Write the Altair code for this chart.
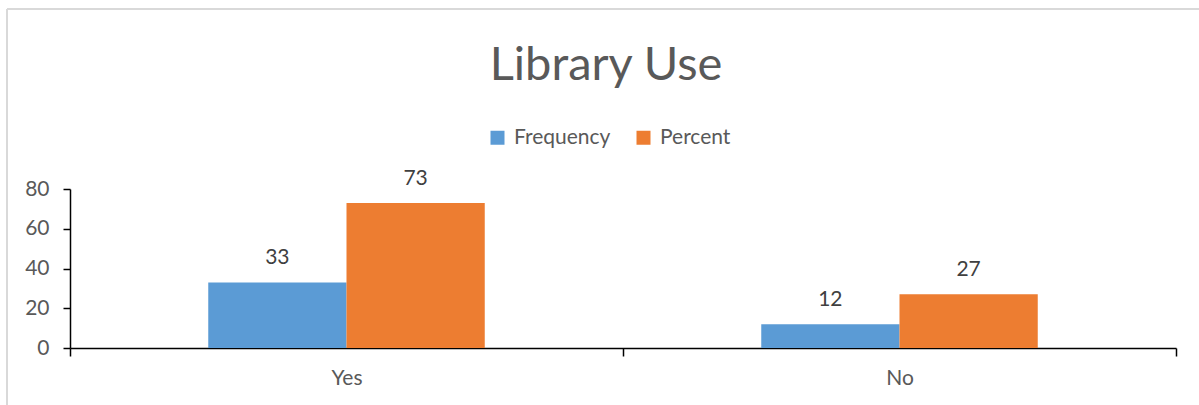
import altair as alt
import pandas as pd

# Survey answers and the two series drawn for each
categories = ["Yes", "No"]
series = ["Frequency", "Percent"]
frequency = [33, 12]
percent = [73, 27]
colors = ["#5B9BD5", "#ED7D31"]
chart_title = "Library Use"

rows = []
for i, cat in enumerate(categories):
    rows.append({"answer": cat, "series": "Frequency", "value": frequency[i]})
    rows.append({"answer": cat, "series": "Percent", "value": percent[i]})
df = pd.DataFrame(rows)

FONT = "Lato"
TEXT_GREY = "#595959"
SMALL = 21

x_enc = alt.X(
    "answer:N",
    sort=categories,
    scale=alt.Scale(paddingInner=0, paddingOuter=0),
    axis=alt.Axis(
        title=None,
        labelAngle=0,
        tickBand="extent",
        domainColor="black",
        domainWidth=1.5,
        tickColor="black",
        tickWidth=1.5,
        tickSize=8,
        labelPadding=11,
        labelFont=FONT,
        labelFontSize=SMALL,
        labelColor=TEXT_GREY,
    ),
)
# Each answer's band holds the two bars side by side, half its width
xoff_enc = alt.XOffset(
    "series:N", sort=series, scale=alt.Scale(paddingInner=0, paddingOuter=1)
)
y_enc = alt.Y(
    "value:Q",
    scale=alt.Scale(domain=[0, 80]),
    axis=alt.Axis(
        title=None,
        values=[0, 20, 40, 60, 80],
        grid=False,
        domainColor="black",
        domainWidth=1.5,
        tickColor="black",
        tickWidth=1.5,
        tickSize=7,
        labelPadding=14,
        labelFont=FONT,
        labelFontSize=SMALL,
        labelColor=TEXT_GREY,
    ),
)
color_enc = alt.Color(
    "series:N",
    sort=series,
    scale=alt.Scale(domain=series, range=colors),
    legend=alt.Legend(
        title=None,
        orient="none",
        direction="horizontal",
        legendX=417,
        legendY=-62,
        symbolType="square",
        symbolSize=196,
        symbolStrokeWidth=0,
        symbolOpacity=1,
        labelFont=FONT,
        labelFontSize=SMALL,
        labelColor=TEXT_GREY,
        labelOffset=6,
        columnPadding=22,
        padding=0,
    ),
)

bars = alt.Chart(df).mark_bar(opacity=1).encode(
    x=x_enc, xOffset=xoff_enc, y=y_enc, color=color_enc
)

labels = alt.Chart(df).mark_text(
    baseline="bottom", dy=-14, font=FONT, fontSize=SMALL, color="#404040"
).encode(x=x_enc, xOffset=xoff_enc, y=y_enc, text="value:Q")

# Chart heading, centred over the legend
title = alt.Chart(pd.DataFrame({"t": [chart_title]})).mark_text(
    font=FONT, fontSize=47, color=TEXT_GREY, baseline="alphabetic", align="center"
).encode(text="t:N", x=alt.value(536), y=alt.value(-109))

# Light frame lines along the top and left of the chart area
top_line = alt.Chart(df).mark_rule(color="#d9d9d9", strokeWidth=1.5).encode(
    x=alt.value(-63), x2=alt.value(1130), y=alt.value(-180)
)
left_line = alt.Chart(df).mark_rule(color="#d9d9d9", strokeWidth=1.5).encode(
    x=alt.value(-63), y=alt.value(-180), y2=alt.value(230)
)

chart = (
    alt.layer(top_line, left_line, title, bars, labels)
    .properties(
        width=1106,
        height=159,
        background="white",
        autosize=alt.AutoSizeParams(type="none"),
        padding={"left": 70, "top": 189, "right": 23, "bottom": 57},
    )
    .configure_view(strokeWidth=0, stroke="transparent")
)

chart.save("out.html", embed_options={"renderer": "svg", "actions": False})
